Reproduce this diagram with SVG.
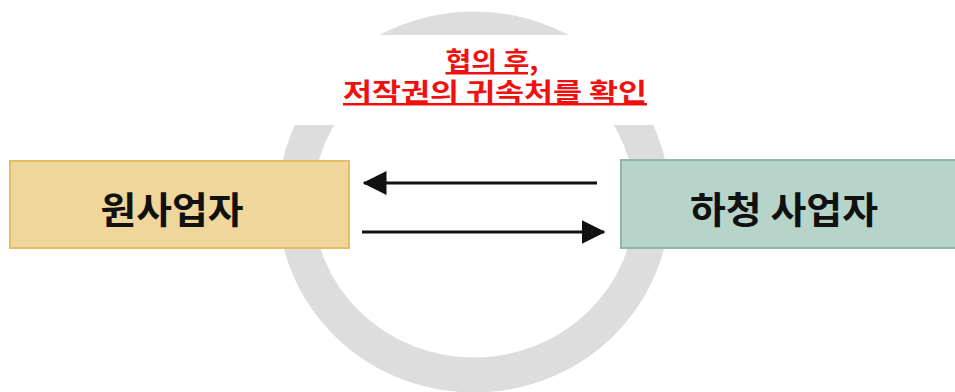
<svg xmlns="http://www.w3.org/2000/svg" width="955" height="392" viewBox="0 0 955 392">
<style>
.lbl{font-family:"Noto Sans CJK KR","Noto Sans",sans-serif;font-weight:bold;font-size:37px;fill:#111;text-anchor:middle;dominant-baseline:central}
.note{font-family:"Noto Sans CJK KR","Noto Sans",sans-serif;font-weight:bold;font-size:25px;fill:#f01010;text-anchor:middle;text-decoration:underline}
.conn{stroke:#111;stroke-width:3;fill:none}
</style>
<defs>
<marker id="ah" markerWidth="8" markerHeight="8" refX="7.5" refY="4" orient="auto" markerUnits="strokeWidth">
<path d="M0,0 L8,4 L0,8 Z" fill="#111"/>
</marker>
</defs>
<rect width="955" height="392" fill="#fff"/>
<ellipse cx="474" cy="202" rx="178.5" ry="173" fill="none" stroke="#dddddd" stroke-width="35"/>
<rect x="260" y="35" width="430" height="90" fill="#fff"/>
<g id="note">
<text class="note" x="492" y="70" textLength="93" lengthAdjust="spacingAndGlyphs">협의 후,</text>
<text class="note" x="495" y="101" textLength="304" lengthAdjust="spacingAndGlyphs">저작권의 귀속처를 확인</text>
</g>
<g id="node-a">
<rect x="10" y="161" width="339" height="87" fill="#efd69a" stroke="#e6bd68" stroke-width="2"/>
<text class="lbl" x="172" y="208" textLength="143" lengthAdjust="spacingAndGlyphs">원사업자</text>
</g>
<g id="node-b">
<rect x="621" y="160" width="340" height="88" fill="#b7d4cb" stroke="#8fb6aa" stroke-width="2"/>
<text class="lbl" x="784" y="208" textLength="188" lengthAdjust="spacingAndGlyphs">하청 사업자</text>
</g>
<g id="connectors">
<line class="conn" x1="597" y1="183" x2="364" y2="183" marker-end="url(#ah)"/>
<line class="conn" x1="362" y1="232" x2="604" y2="232" marker-end="url(#ah)"/>
</g>
</svg>
